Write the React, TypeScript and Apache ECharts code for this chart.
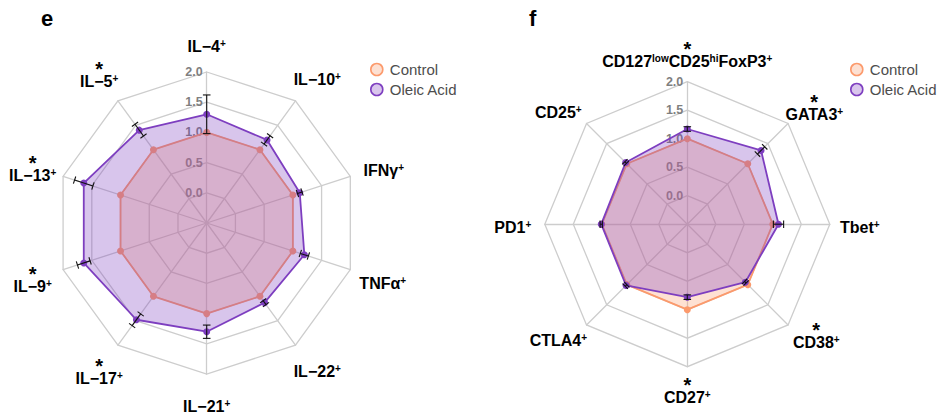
import React, { useEffect, useRef } from "react";
import * as echarts from "echarts";

const FONT = "Liberation Sans, Arial, Helvetica, sans-serif";

// Panel e: cytokine-producing cells, counter-clockwise from the top axis
const cytokineLabels = [["IL−4"], ["IL−5"], ["IL−13"], ["IL−9"], ["IL−17"], ["IL−21"], ["IL−22"], ["TNFα"], ["IFNγ"], ["IL−10"]];
const cytokineStars = [false, true, true, true, true, false, false, false, false, false];
const cytokineControl = [1, 1, 1, 1, 1, 1, 1, 1, 1, 1];
const cytokineOleic = [1.3, 1.4, 1.64, 1.64, 1.48, 1.3, 1.13, 1.2, 1.12, 1.2];
const cytokineOleicSd = [0.32, 0.12, 0.16, 0.11, 0.12, 0.11, 0.04, 0.07, 0.04, 0.085];

// Panel f: surface / transcription markers (odd entries are superscripts)
const markerLabels = [["CD127", "low", "CD25", "hi", "FoxP3"], ["CD25"], ["PD1"], ["CTLA4"], ["CD27"], ["CD38"], ["Tbet"], ["GATA3"]];
const markerStars = [true, false, false, false, true, true, false, true];
const markerControl = [1, 1, 1, 1, 1, 1, 1, 1];
const markerOleic = [1.17, 1.03, 1.01, 1.02, 0.78, 0.94, 1.1, 1.33];
const markerOleicSd = [0.04, 0.02, 0.02, 0.02, 0.04, 0.02, 0.09, 0.09];

// Small per-axis label offsets [dx, dy] in px, applied as text padding
const cytokineNameShift = [[0, 6], [0, 2], [0, 5], [0, 2], [0, 3], [0, 0], [3, 0], [2, 4], [3, 4], [3, 5]];
const markerNameShift = [[0, 5], [-7, 10], [-2, 3], [-7, -6], [0, -4], [7, -8], [0, 3], [5, 8]];

const axisMin = -0.5;
const axisMax = 2;
const groups = ["Control", "Oleic Acid"];

const CONTROL = "#FC9A6C";
const OLEIC = "#7E3FC0";

// Significance star sits on its own line above the marker name.
function labelMarkup(parts: string[], star: boolean) {
  const body = parts.map((p, i) => (i % 2 ? `{lo|${p}}` : `{b|${p}}`)).join("") + "{p|+}";
  return star ? `{s|*}\n${body}` : body;
}

function indicators(labels: string[][], stars: boolean[], shifts: number[][]) {
  return labels.map((parts, i) => {
    const [dx, dy] = shifts[i];
    return {
      name: labelMarkup(parts, stars[i]),
      min: axisMin,
      max: axisMax,
      nameTextStyle: {
        padding: [Math.max(0, 2 * dy), Math.max(0, -2 * dx), Math.max(0, -2 * dy), Math.max(0, 2 * dx)],
      },
      ...(i === 0 ? { axisLabel: { show: true } } : {}),
    };
  });
}

const rich = {
  b: { fontFamily: FONT, fontSize: 16, fontWeight: "bold", color: "#000", align: "center", lineHeight: 16 },
  p: { fontFamily: FONT, fontSize: 10, fontWeight: "bold", color: "#000", verticalAlign: "top", align: "center", lineHeight: 16 },
  lo: { fontFamily: FONT, fontSize: 10, color: "#000", verticalAlign: "top", align: "center", lineHeight: 16 },
  s: { fontFamily: FONT, fontSize: 20, fontWeight: "bold", color: "#000", align: "center", lineHeight: 9 },
};

function radarComponent(center: number[], radius: number, gap: number, labels: string[][], stars: boolean[], shifts: number[][]) {
  return {
    center,
    radius,
    startAngle: 90,
    splitNumber: 5,
    shape: "polygon",
    indicator: indicators(labels, stars, shifts),
    nameGap: gap,
    axisName: {
      rich,
      fontFamily: FONT,
      fontSize: 16,
      fontWeight: "bold",
      color: "#000",
      align: "center",
      verticalAlign: "middle",
    },
    axisLine: { lineStyle: { color: "#cdcdcd", width: 1.3 } },
    splitLine: { lineStyle: { color: "#cdcdcd", width: 1.3 } },
    splitArea: { show: false },
    axisTick: { show: false },
    axisLabel: {
      show: false,
      margin: 4,
      fontFamily: FONT,
      fontSize: 12.5,
      fontWeight: "bold",
      color: "#7f7f7f",
      formatter: (v: number) => (v < -0.01 ? "" : Number(v).toFixed(1)),
    },
  };
}

function radarSeries(radarIndex: number, control: number[], oleic: number[]) {
  return [
    {
      type: "radar",
      radarIndex,
      name: groups[0],
      symbol: "circle",
      symbolSize: 7,
      lineStyle: { color: CONTROL, width: 1.8 },
      itemStyle: { color: CONTROL },
      areaStyle: { color: CONTROL, opacity: 0.3 },
      data: [{ name: groups[0], value: control }],
      z: 2,
    },
    {
      type: "radar",
      radarIndex,
      name: groups[1],
      symbol: "circle",
      symbolSize: 7,
      lineStyle: { color: OLEIC, width: 1.8 },
      itemStyle: { color: OLEIC },
      areaStyle: { color: OLEIC, opacity: 0.3 },
      data: [{ name: groups[1], value: oleic }],
      z: 3,
    },
  ];
}

function errorSeries(polarIndex: number, values: number[], sd: number[]) {
  const n = values.length;
  return {
    type: "custom",
    coordinateSystem: "polar",
    polarIndex,
    silent: true,
    z: 4,
    encode: { radius: 0, angle: 1 },
    data: values.map((v, i) => [v, (i * 360) / n, sd[i]]),
    renderItem: (params: any, api: any) => {
      const v = api.value(0);
      const a = api.value(1);
      const e = api.value(2);
      const lo = api.coord([v - e, a]);
      const hi = api.coord([v + e, a]);
      const cx = params.coordSys.cx;
      const cy = params.coordSys.cy;
      const dx = hi[0] - cx;
      const dy = hi[1] - cy;
      const len = Math.hypot(dx, dy) || 1;
      const cap = 3.8;
      const nx = (-dy / len) * cap;
      const ny = (dx / len) * cap;
      const style = { stroke: "#111", lineWidth: 1.1, fill: null };
      return {
        type: "group",
        children: [
          { type: "line", shape: { x1: lo[0], y1: lo[1], x2: hi[0], y2: hi[1] }, style },
          { type: "line", shape: { x1: lo[0] - nx, y1: lo[1] - ny, x2: lo[0] + nx, y2: lo[1] + ny }, style },
          { type: "line", shape: { x1: hi[0] - nx, y1: hi[1] - ny, x2: hi[0] + nx, y2: hi[1] + ny }, style },
        ],
      };
    },
  };
}

function legend(left: number) {
  return {
    orient: "vertical",
    left,
    top: 57,
    itemWidth: 16,
    itemHeight: 12,
    itemGap: 5,
    icon: "circle",
    textStyle: { fontFamily: FONT, fontSize: 15, color: "#4d4d4d" },
    data: [
      { name: groups[0], itemStyle: { color: "#FDE0D2", borderColor: CONTROL, borderWidth: 1.6 } },
      { name: groups[1], itemStyle: { color: "#D9C6EC", borderColor: OLEIC, borderWidth: 1.6 } },
    ],
  };
}

const centers = [
  [206.7, 223],
  [687.3, 224.2],
];
const radii = [151, 142.5];

export default function App() {
  const ref = useRef<HTMLDivElement>(null);
  useEffect(() => {
    if (!ref.current) return;
    const chart = echarts.init(ref.current, null, { renderer: "svg" });
    chart.setOption({
      animation: false,
      backgroundColor: "#fff",
      title: [
        { text: "e", left: 36, top: 2, textStyle: { fontFamily: FONT, fontSize: 22, fontWeight: "bold", color: "#000" } },
        { text: "f", left: 524, top: 2, textStyle: { fontFamily: FONT, fontSize: 22, fontWeight: "bold", color: "#000" } },
      ],
      legend: [legend(365), legend(845)],
      radar: [
        radarComponent(centers[0], radii[0], 32, cytokineLabels, cytokineStars, cytokineNameShift),
        radarComponent(centers[1], radii[1], 30, markerLabels, markerStars, markerNameShift),
      ],
      polar: [
        { center: centers[0], radius: radii[0] },
        { center: centers[1], radius: radii[1] },
      ],
      angleAxis: [
        { polarIndex: 0, type: "value", min: 0, max: 360, startAngle: 90, clockwise: false, show: false },
        { polarIndex: 1, type: "value", min: 0, max: 360, startAngle: 90, clockwise: false, show: false },
      ],
      radiusAxis: [
        { polarIndex: 0, type: "value", min: axisMin, max: axisMax, show: false },
        { polarIndex: 1, type: "value", min: axisMin, max: axisMax, show: false },
      ],
      series: [
        ...radarSeries(0, cytokineControl, cytokineOleic),
        ...radarSeries(1, markerControl, markerOleic),
        errorSeries(0, cytokineOleic, cytokineOleicSd),
        errorSeries(1, markerOleic, markerOleicSd),
      ],
    });
    return () => chart.dispose();
  }, []);
  return <div ref={ref} style={{ position: "fixed", left: 0, top: 0, width: 943, height: 417 }} />;
}
